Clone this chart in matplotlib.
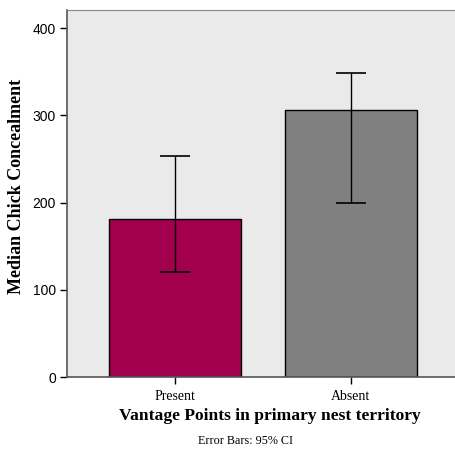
import matplotlib
matplotlib.use("Agg")
import matplotlib.pyplot as plt

categories = ["Present", "Absent"]
values = [181, 306.5]
ci_low = [120.5, 200]
ci_high = [253.5, 348.5]
colors = ["#A2004F", "#808080"]
yticks = [0, 100, 200, 300, 400]

fig = plt.figure(figsize=(4.55, 4.51), dpi=100)
ax = fig.add_axes([0.147, 0.164, 0.89, 0.814])
ax.set_facecolor("#EAEAEA")

x = list(range(len(categories)))
yerr = [[v - l for v, l in zip(values, ci_low)], [h - v for v, h in zip(values, ci_high)]]
ax.bar(x, values, width=0.752, color=colors, edgecolor="black", linewidth=1.0, zorder=2)
ax.errorbar(x, values, yerr=yerr, fmt="none", ecolor="black", elinewidth=1.0,
            capsize=11, capthick=1.2, zorder=3)

ax.set_xlim(-0.615, 1.69)
ax.set_ylim(0, 421)
ax.set_xticks(x)
ax.set_xticklabels(categories, fontfamily="Liberation Serif", fontsize=10)
ax.set_yticks(yticks)
ax.set_yticklabels([str(t) for t in yticks], fontfamily="Liberation Sans", fontsize=10)
ax.tick_params(axis="both", length=5, width=1, direction="out", color="black", pad=3)
ax.tick_params(axis="x", pad=4)
for s in ["left", "bottom"]:
    ax.spines[s].set_color("#555555")
    ax.spines[s].set_linewidth(1.2)
ax.spines["top"].set_color("#888888")
ax.spines["right"].set_visible(False)

fig.text(17 / 455, 1 - 186 / 451, "Median Chick Concealment", rotation=90,
         ha="center", va="center", fontfamily="Liberation Serif",
         fontweight="bold", fontsize=13)
fig.text(269.5 / 455, 1 - 416 / 451, "Vantage Points in primary nest territory",
         ha="center", va="center", fontfamily="Liberation Serif",
         fontweight="bold", fontsize=12.6)
fig.text(245 / 455, 1 - 441 / 451, "Error Bars: 95% CI", ha="center", va="center",
         fontfamily="Liberation Serif", fontsize=8.7)

fig.savefig("out.png", dpi=100)
